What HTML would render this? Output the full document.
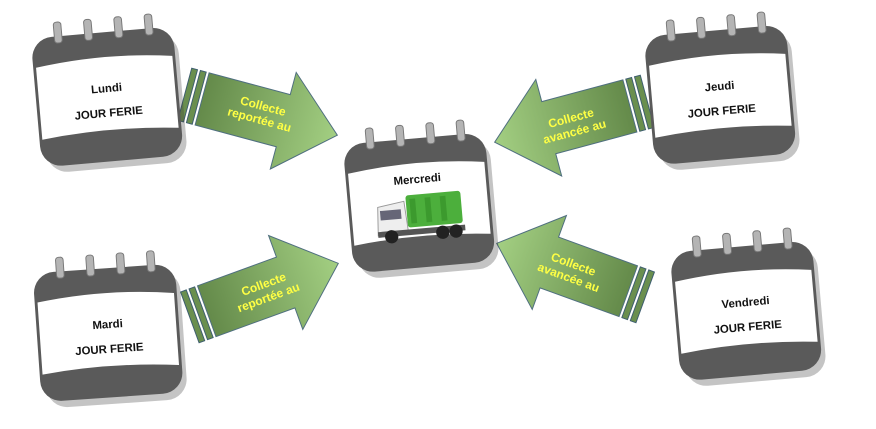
<!DOCTYPE html>
<html><head><meta charset="utf-8"><style>
html,body{margin:0;padding:0;background:#fff;width:876px;height:429px;overflow:hidden}
text{font-family:"Liberation Sans",sans-serif;font-weight:bold}
</style></head><body>
<svg width="876" height="429" viewBox="0 0 876 429" xmlns="http://www.w3.org/2000/svg">
<defs>
<linearGradient id="g" x1="0" x2="1" y1="0" y2="0">
<stop offset="0" stop-color="#648a4a"/><stop offset="1" stop-color="#a3cf82"/>
</linearGradient>
<g id="cal">
<rect x="-72" y="-62" width="148" height="136" rx="22" fill="#3a3a3a" opacity="0.3" transform="translate(3,4)"/>
<rect x="-75" y="-65" width="150" height="136" rx="22" fill="#5a5a5a"/>
<path d="M-72,-34 Q0,-44 72,-34 L72,42 Q0,34 -72,42 Z" fill="#fff"/>
<g fill="#b4b4b4" stroke="#777" stroke-width="1">
<rect x="-50" y="-80" width="8" height="22" rx="3"/>
<rect x="-18" y="-80" width="8" height="22" rx="3"/>
<rect x="14" y="-80" width="8" height="22" rx="3"/>
<rect x="46" y="-80" width="8" height="22" rx="3"/>
</g>
</g>
<g id="arr">
<rect x="-80" y="-27" width="6" height="54" fill="#6a8f4e" stroke="#3f5f6f"/>
<rect x="-71" y="-27" width="6" height="54" fill="#6a8f4e" stroke="#3f5f6f"/>
<path d="M-62,-27 L22,-27 L22,-50 L78,0 L22,50 L22,27 L-62,27 Z" fill="url(#g)" stroke="#4f6f7f" stroke-width="1"/>
</g>
</defs>

<g transform="translate(262,115) rotate(15)"><use href="#arr"/></g>
<text transform="translate(262,110) rotate(15)" text-anchor="middle" font-size="12" fill="#ffff44"><tspan x="0" y="0">Collecte</tspan><tspan x="0" y="14">reportée au</tspan></text>

<g transform="translate(265,290) rotate(-20)"><use href="#arr"/></g>
<text transform="translate(265,288) rotate(-20)" text-anchor="middle" font-size="12" fill="#ffff44"><tspan x="0" y="0">Collecte</tspan><tspan x="0" y="14">reportée au</tspan></text>

<g transform="translate(570,122) rotate(165)"><use href="#arr"/></g>
<text transform="translate(572,122) rotate(-15)" text-anchor="middle" font-size="12" fill="#ffff44"><tspan x="0" y="0">Collecte</tspan><tspan x="0" y="14">avancée au</tspan></text>

<g transform="translate(570,270) rotate(200)"><use href="#arr"/></g>
<text transform="translate(572,268) rotate(20)" text-anchor="middle" font-size="12" fill="#ffff44"><tspan x="0" y="0">Collecte</tspan><tspan x="0" y="14">avancée au</tspan></text>

<g transform="translate(107,94) rotate(-5) scale(0.95)"><use href="#cal"/>
<text x="0" y="-2" text-anchor="middle" font-size="12" fill="#111">Lundi</text>
<text x="0" y="24" text-anchor="middle" font-size="12" fill="#111">JOUR FERIE</text></g>

<g transform="translate(108,330) rotate(-4) scale(0.95)"><use href="#cal"/>
<text x="0" y="-2" text-anchor="middle" font-size="12" fill="#111">Mardi</text>
<text x="0" y="24" text-anchor="middle" font-size="12" fill="#111">JOUR FERIE</text></g>

<g transform="translate(720,92) rotate(-5) scale(0.95)"><use href="#cal"/>
<text x="0" y="-2" text-anchor="middle" font-size="12" fill="#111">Jeudi</text>
<text x="0" y="24" text-anchor="middle" font-size="12" fill="#111">JOUR FERIE</text></g>

<g transform="translate(746,308) rotate(-5) scale(0.95)"><use href="#cal"/>
<text x="0" y="-2" text-anchor="middle" font-size="12" fill="#111">Vendredi</text>
<text x="0" y="24" text-anchor="middle" font-size="12" fill="#111">JOUR FERIE</text></g>

<g transform="translate(419,200) rotate(-5) scale(0.95)"><use href="#cal"/>
<text x="0" y="-18" text-anchor="middle" font-size="12" fill="#111">Mercredi</text>
<g transform="translate(-2,14)">
<rect x="-12" y="-20" width="58" height="34" rx="3" fill="#4caf3c"/>
<rect x="-8" y="-16" width="6" height="26" fill="#3c9a2e"/>
<rect x="8" y="-16" width="6" height="26" fill="#3c9a2e"/>
<rect x="24" y="-16" width="6" height="26" fill="#3c9a2e"/>
<path d="M-42,-10 L-14,-14 L-12,18 L-44,20 Z" fill="#eee" stroke="#999"/>
<rect x="-40" y="-6" width="22" height="10" fill="#667"/>
<rect x="-44" y="16" width="92" height="6" fill="#555"/>
<circle cx="-30" cy="22" r="7" fill="#222"/>
<circle cx="24" cy="22" r="7" fill="#222"/>
<circle cx="38" cy="22" r="7" fill="#222"/>
</g>
</g>
</svg>
</body></html>
